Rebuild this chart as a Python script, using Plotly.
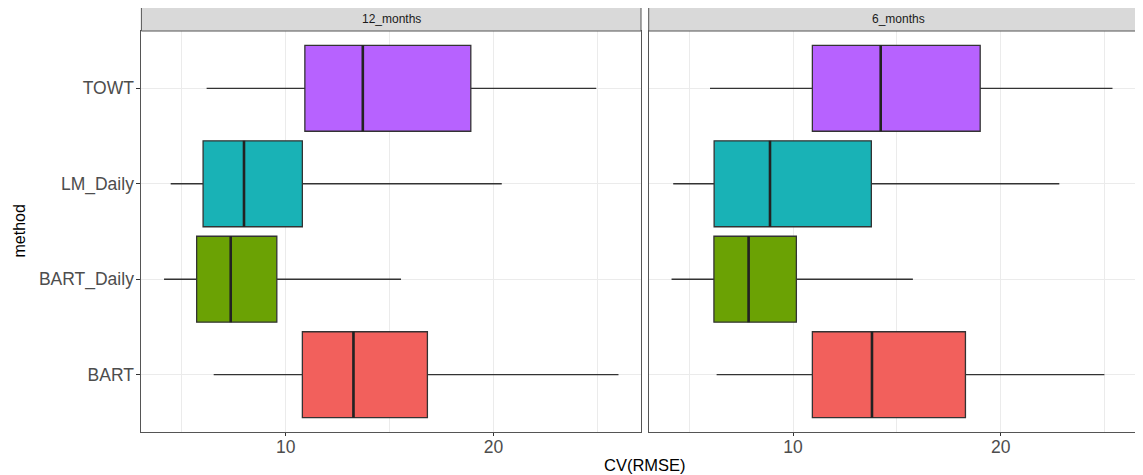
import plotly.graph_objects as go

# ---- data ----
methods = ["BART", "BART_Daily", "LM_Daily", "TOWT"]          # bottom -> top
colors = ["#F2605C", "#6BA204", "#19B2B6", "#B762FF"]
panels = ["12_months", "6_months"]

# 12_months
low_12 = [6.53, 4.14, 4.46, 6.19]
q1_12 = [10.80, 5.71, 6.02, 10.92]
med_12 = [13.26, 7.35, 7.99, 13.71]
q3_12 = [16.82, 9.57, 10.80, 18.91]
high_12 = [26.02, 15.55, 20.40, 24.95]

# 6_months
low_6 = [6.32, 4.15, 4.23, 6.00]
q1_6 = [10.93, 6.19, 6.20, 10.93]
med_6 = [13.80, 7.86, 8.89, 14.22]
q3_6 = [18.30, 10.16, 13.77, 19.01]
high_6 = [24.99, 15.77, 22.82, 25.38]

stats = [
    (low_12, q1_12, med_12, q3_12, high_12),
    (low_6, q1_6, med_6, q3_6, high_6),
]

OFF = 8  # page body margin
WIN_W, WIN_H = 1143, 475
W, H = WIN_W - OFF, WIN_H - OFF
fig = go.Figure()

for p, (lo, q1, md, q3, hi) in enumerate(stats):
    xa = "x" if p == 0 else "x2"
    ya = "y" if p == 0 else "y2"
    for i, m in enumerate(methods):
        pos = i + 1
        fig.add_trace(go.Box(
            y=[pos], q1=[q1[i]], median=[md[i]], q3=[q3[i]],
            lowerfence=[lo[i]], upperfence=[hi[i]],
            orientation="h", width=0.9, whiskerwidth=0,
            fillcolor=colors[i], line=dict(color="#333333", width=1.3),
            boxpoints=False, showlegend=False, hoverinfo="skip",
            xaxis=xa, yaxis=ya, name=m,
        ))
        fig.add_trace(go.Scatter(
            x=[md[i], md[i]], y=[pos - 0.45, pos + 0.45], mode="lines",
            line=dict(color="#222222", width=2.6), showlegend=False,
            hoverinfo="skip", xaxis=xa, yaxis=ya,
        ))

def px_x(v):
    return (v - OFF) / W

def px_y(v):
    return 1 - (v - OFF) / H

PL, PR1, PL2 = 141.4, 641.0, 648.7
left_dom = [px_x(PL), px_x(PR1)]
right_dom = [px_x(PL2), 1.0]
ydom = [px_y(432), px_y(31)]

xmin = 3.05
scale = 20.77  # px per unit
left_rng = [xmin, xmin + (PR1 - PL) / scale]
right_rng = [xmin, xmin + (WIN_W - PL2) / scale]

grid = "#EBEBEB"
common_x = dict(
    tick0=0, dtick=10, showgrid=True, gridcolor=grid, gridwidth=1.1,
    minor=dict(tick0=0, dtick=5, showgrid=True, gridcolor=grid, gridwidth=0.6),
    zeroline=False, showline=True, linecolor="#555555", linewidth=1, mirror=True,
    ticks="outside", ticklen=3, tickcolor="#333333", tickwidth=1,
    ticklabelstandoff=-4,
    tickfont=dict(family="Liberation Sans", size=17.5, color="#4D4D4D"),
    automargin=False, fixedrange=True,
)
common_y = dict(
    range=[0.4, 4.6], domain=ydom, tickvals=[1, 2, 3, 4],
    showgrid=True, gridcolor=grid, gridwidth=1.1, zeroline=False,
    showline=True, linecolor="#555555", linewidth=1, mirror=True,
    automargin=False, fixedrange=True,
)

fig.update_layout(
    width=W, height=H,
    margin=dict(l=0, r=0, t=0, b=0),
    paper_bgcolor="white", plot_bgcolor="white",
    showlegend=False,
    xaxis=dict(domain=left_dom, range=left_rng, anchor="y", **common_x),
    xaxis2=dict(domain=right_dom, range=right_rng, anchor="y2", **common_x),
    yaxis=dict(anchor="x", ticktext=methods, ticks="outside", ticklen=4,
               tickcolor="#333333", tickwidth=1, ticklabelstandoff=-1,
               tickfont=dict(family="Liberation Sans", size=17.5, color="#4D4D4D"),
               **common_y),
    yaxis2=dict(anchor="x2", showticklabels=False, ticks="", **common_y),
)

# strips
shapes = []
annotations = []
panel_w = PR1 - PL
for x0, label in [(PL, panels[0]), (PL2, panels[1])]:
    shapes.append(dict(type="rect", xref="paper", yref="paper",
                       x0=px_x(x0), x1=min(px_x(x0 + panel_w), 1.0),
                       y0=px_y(31), y1=px_y(7),
                       fillcolor="#D9D9D9", line=dict(color="#555555", width=1)))
    annotations.append(dict(text=label, xref="paper", yref="paper",
                            x=px_x(x0 + panel_w / 2), y=px_y(19),
                            xanchor="center", yanchor="middle", showarrow=False,
                            font=dict(family="Liberation Sans", size=12, color="#1A1A1A")))

annotations.append(dict(text="CV(RMSE)", xref="paper", yref="paper",
                        x=px_x(645), y=px_y(465), xanchor="center", yanchor="middle",
                        showarrow=False,
                        font=dict(family="Liberation Sans", size=16.5, color="black")))
annotations.append(dict(text="method", xref="paper", yref="paper",
                        x=0.0, y=px_y(231), xanchor="left", yanchor="middle",
                        textangle=-90, showarrow=False,
                        font=dict(family="Liberation Sans", size=16, color="black")))

fig.update_layout(shapes=shapes, annotations=annotations)
fig.write_html("out.html")
